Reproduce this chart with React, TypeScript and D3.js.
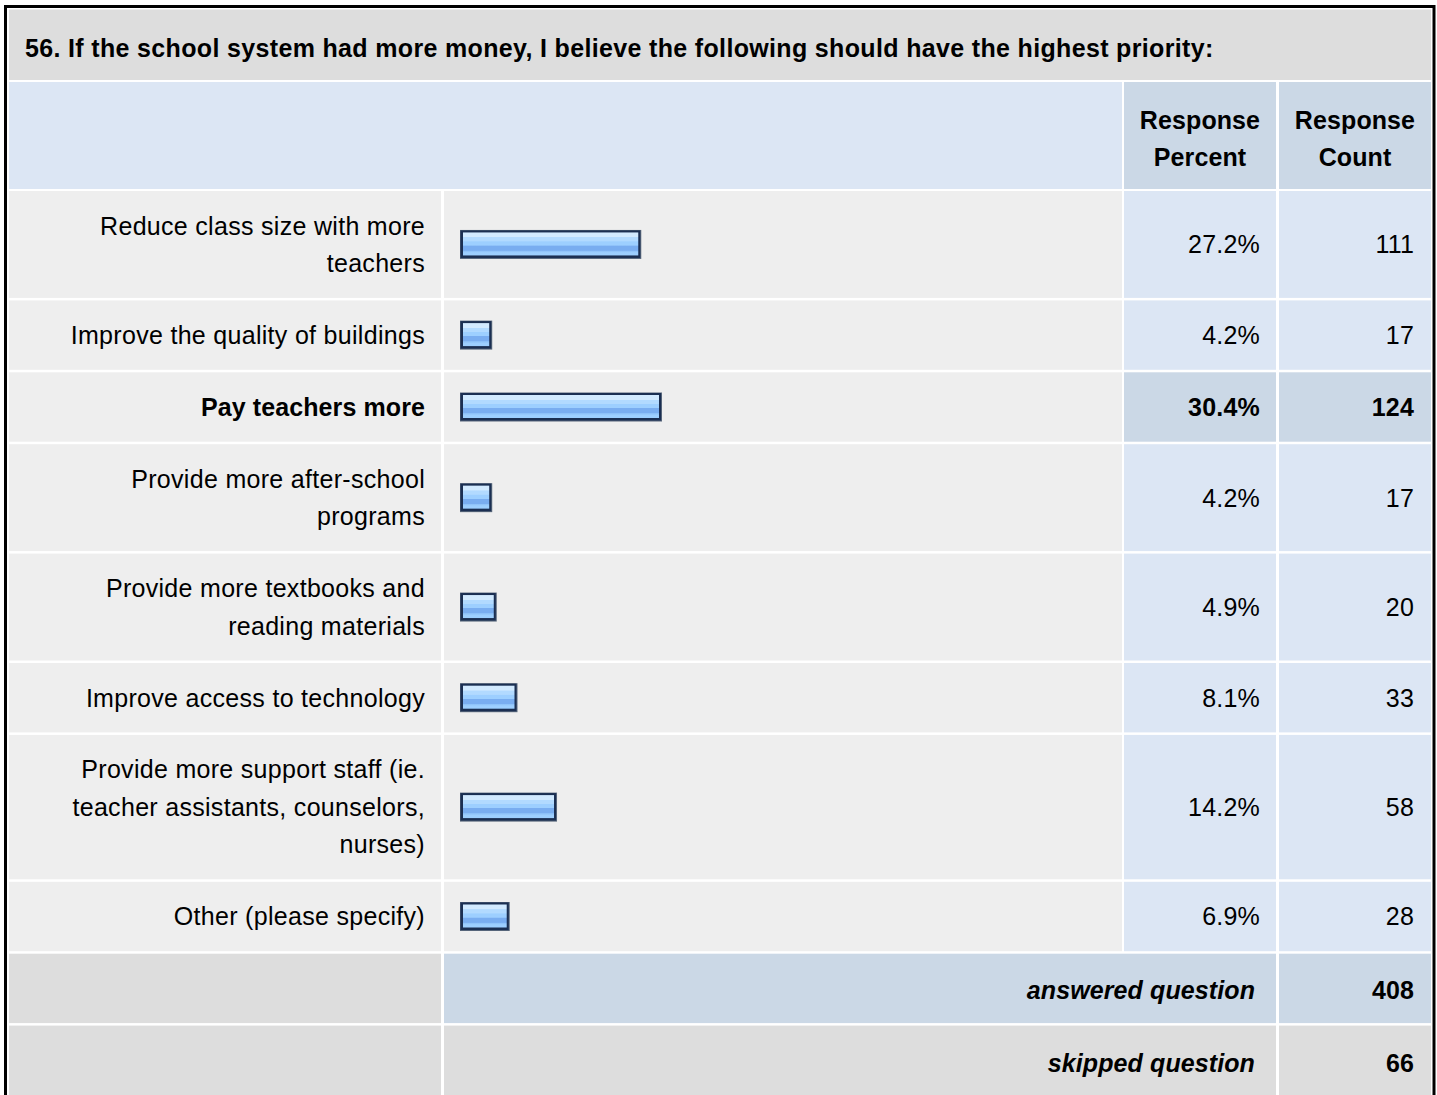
import React from "react";
import * as d3 from "d3";

const title = "56. If the school system had more money, I believe the following should have the highest priority:";
const categories: string[][] = [
  ["Reduce class size with more", "teachers"],
  ["Improve the quality of buildings"],
  ["Pay teachers more"],
  ["Provide more after-school", "programs"],
  ["Provide more textbooks and", "reading materials"],
  ["Improve access to technology"],
  ["Provide more support staff (ie.", "teacher assistants, counselors,", "nurses)"],
  ["Other (please specify)"],
];
const percents = [27.2, 4.2, 30.4, 4.2, 4.9, 8.1, 14.2, 6.9];
const counts = [111, 17, 124, 17, 20, 33, 58, 28];
const highlighted = [false, false, true, false, false, false, false, false];
const headerLabels = [["Response", "Percent"], ["Response", "Count"]];
const answered = 408;
const skipped = 66;

const W = 1437;
const H = 1095;
const FONT = "'Liberation Sans', Arial, Helvetica, sans-serif";
const FS = 25;
const LINE = 37.5;
const BASE = 31.9;
const GAP = 2.5;

// columns
const colLabel = [9, 441];
const colBar = [444, 1122];
const colPct = [1124, 1276];
const colCnt = [1279, 1431];

export default function App() {
  const x = d3.scaleLinear().domain([0, 100]).range([0, 648]);

  const rows: { y0: number; y1: number }[] = [];
  let y = 191;
  categories.forEach((c) => {
    const h = BASE + LINE * c.length;
    rows.push({ y0: y, y1: y + h });
    y += h + GAP;
  });
  const ansY0 = y;
  const ansY1 = y + BASE + LINE;
  const skY0 = ansY1 + GAP;
  const skY1 = skY0 + BASE + LINE;

  const textLines = (
    lines: string[],
    cx: number,
    cy: number,
    anchor: string,
    weight: string | number,
    style = "normal",
    ls = 0.25
  ) =>
    lines.map((l, i) => (
      <text
        key={i}
        x={cx}
        y={cy + (i - (lines.length - 1) / 2) * LINE}
        dy="0.355em"
        textAnchor={anchor}
        fontWeight={weight}
        fontStyle={style}
        fontSize={FS}
        fontFamily={FONT}
        letterSpacing={ls}
        fill="#000"
      >
        {l}
      </text>
    ));

  return (
    <svg width={W} height={H} style={{ position: "absolute", left: 0, top: 0, background: "#fff" }}>
      <defs>
        <linearGradient id="barGrad" x1="0" y1="0" x2="0" y2="1">
          <stop offset="0" stopColor="#d2eaff" />
          <stop offset="0.2" stopColor="#d2eaff" />
          <stop offset="0.22" stopColor="#b2daff" />
          <stop offset="0.38" stopColor="#b2daff" />
          <stop offset="0.4" stopColor="#9dcfff" />
          <stop offset="0.56" stopColor="#9dcfff" />
          <stop offset="0.58" stopColor="#79adf0" />
          <stop offset="0.78" stopColor="#79adf0" />
          <stop offset="0.8" stopColor="#8cc0f8" />
          <stop offset="0.88" stopColor="#9dcfff" />
          <stop offset="1" stopColor="#9dcfff" />
        </linearGradient>
      </defs>
      <rect x={5.5} y={6.5} width={1428.5} height={1200} fill="#fff" stroke="#000" strokeWidth={3} />

      <rect x={9} y={9.5} width={1422} height={70.5} fill="#dddddd" />
      <text x={25} y={48} dy="0.355em" fontSize={FS} fontWeight="bold" fontFamily={FONT} letterSpacing={0.34} fill="#000">
        {title}
      </text>

      <rect x={colLabel[0]} y={82} width={colBar[1] - colLabel[0]} height={107} fill="#dce6f4" />
      {[colPct, colCnt].map((c, i) => (
        <g key={i}>
          <rect x={c[0]} y={82} width={c[1] - c[0]} height={107} fill="#cbd8e6" />
          {textLines(headerLabels[i], (c[0] + c[1]) / 2, 138.5, "middle", "bold", "normal", 0.1)}
        </g>
      ))}

      {rows.map((r, i) => {
        const cy = (r.y0 + r.y1) / 2;
        const bw = x(percents[i]) + 5;
        const bh = 29;
        const valFill = highlighted[i] ? "#cbd8e6" : "#dce6f4";
        const wt = highlighted[i] ? "bold" : "normal";
        return (
          <g key={i}>
            <rect x={colLabel[0]} y={r.y0} width={colLabel[1] - colLabel[0]} height={r.y1 - r.y0} fill="#eeeeee" />
            <rect x={colBar[0]} y={r.y0} width={colBar[1] - colBar[0]} height={r.y1 - r.y0} fill="#eeeeee" />
            <rect x={colPct[0]} y={r.y0} width={colPct[1] - colPct[0]} height={r.y1 - r.y0} fill={valFill} />
            <rect x={colCnt[0]} y={r.y0} width={colCnt[1] - colCnt[0]} height={r.y1 - r.y0} fill={valFill} />
            {textLines(categories[i], 425, cy, "end", wt, "normal", highlighted[i] ? 0.1 : 0.3)}
            <rect x={460} y={cy - bh / 2} width={bw} height={bh} fill="#56657a" />
            <rect x={460.5} y={cy - bh / 2 + 0.5} width={bw - 1.5} height={bh - 1.5} fill="#1b2f52" />
            <rect x={463} y={cy - bh / 2 + 2.5} width={bw - 6} height={bh - 6} fill="url(#barGrad)" />
            {textLines([`${percents[i].toFixed(1)}%`], 1260, cy, "end", wt, "normal", 0.2)}
            {textLines([String(counts[i])], 1414, cy, "end", wt, "normal", 0.2)}
          </g>
        );
      })}

      <rect x={colLabel[0]} y={ansY0} width={colLabel[1] - colLabel[0]} height={ansY1 - ansY0} fill="#dddddd" />
      <rect x={colBar[0]} y={ansY0} width={colPct[1] - colBar[0]} height={ansY1 - ansY0} fill="#cbd8e6" />
      <rect x={colCnt[0]} y={ansY0} width={colCnt[1] - colCnt[0]} height={ansY1 - ansY0} fill="#cbd8e6" />
      {textLines(["answered question"], 1255, (ansY0 + ansY1) / 2 + 2, "end", "bold", "italic", 0.1)}
      {textLines([String(answered)], 1414, (ansY0 + ansY1) / 2 + 2, "end", "bold", "normal", 0.1)}

      <rect x={colLabel[0]} y={skY0} width={colLabel[1] - colLabel[0]} height={skY1 - skY0 + 20} fill="#dddddd" />
      <rect x={colBar[0]} y={skY0} width={colPct[1] - colBar[0]} height={skY1 - skY0 + 20} fill="#dddddd" />
      <rect x={colCnt[0]} y={skY0} width={colCnt[1] - colCnt[0]} height={skY1 - skY0 + 20} fill="#dddddd" />
      {textLines(["skipped question"], 1255, (skY0 + skY1) / 2 + 3, "end", "bold", "italic", 0.1)}
      {textLines([String(skipped)], 1414, (skY0 + skY1) / 2 + 3, "end", "bold", "normal", 0.1)}
    </svg>
  );
}
